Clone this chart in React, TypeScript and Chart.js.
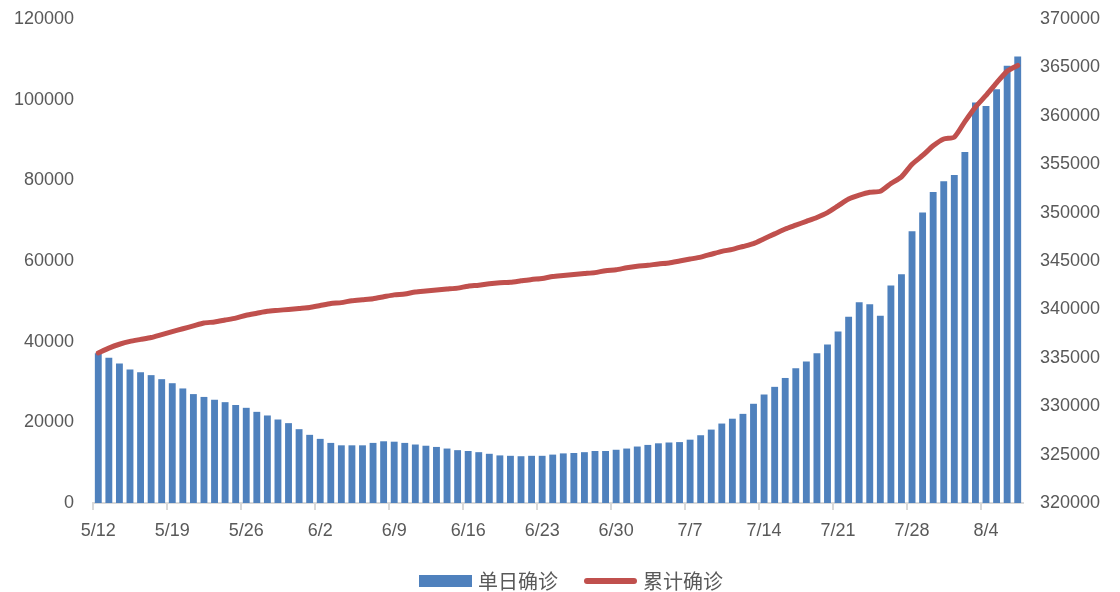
import React, { useEffect, useRef } from "react";
import { Chart, registerables } from "chart.js";

Chart.register(...registerables);

const dates = [
  "5/12", "5/13", "5/14", "5/15", "5/16", "5/17", "5/18", "5/19", "5/20", "5/21",
  "5/22", "5/23", "5/24", "5/25", "5/26", "5/27", "5/28", "5/29", "5/30", "5/31",
  "6/1", "6/2", "6/3", "6/4", "6/5", "6/6", "6/7", "6/8", "6/9", "6/10",
  "6/11", "6/12", "6/13", "6/14", "6/15", "6/16", "6/17", "6/18", "6/19", "6/20",
  "6/21", "6/22", "6/23", "6/24", "6/25", "6/26", "6/27", "6/28", "6/29", "6/30",
  "7/1", "7/2", "7/3", "7/4", "7/5", "7/6", "7/7", "7/8", "7/9", "7/10",
  "7/11", "7/12", "7/13", "7/14", "7/15", "7/16", "7/17", "7/18", "7/19", "7/20",
  "7/21", "7/22", "7/23", "7/24", "7/25", "7/26", "7/27", "7/28", "7/29", "7/30",
  "7/31", "8/1", "8/2", "8/3", "8/4", "8/5", "8/6", "8/7",
];

const dailyCases = [
  37100, 36000, 34600, 33100, 32400, 31700, 30700, 29700, 28400, 27000,
  26300, 25600, 25000, 24300, 23600, 22600, 21700, 20700, 19800, 18300,
  16900, 15900, 14900, 14300, 14300, 14300, 14900, 15300, 15200, 14900,
  14500, 14200, 13900, 13500, 13100, 12900, 12600, 12200, 11800, 11700,
  11600, 11700, 11700, 12000, 12300, 12400, 12600, 12900, 12900, 13200,
  13500, 14000, 14400, 14800, 15000, 15100, 15700, 16800, 18200, 19700,
  20900, 22100, 24600, 26900, 28800, 31000, 33400, 35100, 37100, 39300,
  42500, 46200, 49800, 49300, 46400, 53900, 56700, 67400, 72000, 77100,
  79800, 81300, 87000, 99300, 98400, 102600, 108400, 110700,
];

const cumulativeCases = [
  335500, 336000, 336400, 336700, 336900, 337100, 337400, 337700, 338000, 338300,
  338600, 338700, 338900, 339100, 339400, 339600, 339800, 339900, 340000, 340100,
  340200, 340400, 340600, 340700, 340900, 341000, 341100, 341300, 341500, 341600,
  341800, 341900, 342000, 342100, 342200, 342400, 342500, 342650, 342750, 342800,
  342950, 343100, 343200, 343400, 343500, 343600, 343700, 343800, 344000, 344100,
  344300, 344450, 344550, 344700, 344800, 345000, 345200, 345400, 345700, 346000,
  346200, 346500, 346800, 347300, 347800, 348300, 348700, 349100, 349500, 350000,
  350700, 351400, 351800, 352100, 352200, 353000, 353700, 355000, 355900, 356900,
  357600, 357800, 359400, 360900, 362100, 363400, 364600, 365200,
];

const seriesNames = ["单日确诊", "累计确诊"];
const leftAxisRange = [0, 120000, 20000];
const rightAxisRange = [320000, 370000, 5000];
const labelEvery = 7;

const BAR_COLOR = "#4f81bd";
const LINE_COLOR = "#c0504d";
const TEXT_COLOR = "#595959";

// Legend drawn below the x axis, reading labels and colours from the datasets
const bottomLegend = {
  id: "bottomLegend",
  afterDraw(chart: any) {
    const ctx = chart.ctx as CanvasRenderingContext2D;
    const ds = chart.data.datasets;
    const y = 581;
    const swatchW = 53;
    const gapText = 6;
    const gapItems = 26;
    ctx.save();
    ctx.font = '20px "Noto Sans CJK SC", sans-serif';
    ctx.textBaseline = "middle";
    ctx.textAlign = "left";
    const widths = ds.map((d: any) => swatchW + gapText + ctx.measureText(d.label).width);
    const total = widths.reduce((a: number, b: number) => a + b, 0) + gapItems * (ds.length - 1);
    let x = 571 - total / 2;
    ds.forEach((d: any, i: number) => {
      if (d.type === "line") {
        ctx.strokeStyle = d.borderColor;
        ctx.lineWidth = 6;
        ctx.lineCap = "round";
        ctx.beginPath();
        ctx.moveTo(x + 3, y);
        ctx.lineTo(x + swatchW - 3, y);
        ctx.stroke();
      } else {
        ctx.fillStyle = d.backgroundColor;
        ctx.fillRect(x, y - 6, swatchW, 12);
      }
      ctx.fillStyle = TEXT_COLOR;
      ctx.fillText(d.label, x + swatchW + gapText, y);
      x += widths[i] + gapItems;
    });
    ctx.restore();
  },
};

export default function App() {
  const canvasRef = useRef<HTMLCanvasElement | null>(null);

  useEffect(() => {
    document.body.style.margin = "0";
    const canvas = canvasRef.current;
    if (!canvas) return;
    const font = '"Liberation Sans", "Noto Sans CJK SC", sans-serif';

    const chart = new Chart(canvas, {
      type: "bar",
      data: {
        labels: dates,
        datasets: [
          {
            type: "bar",
            label: seriesNames[0],
            data: dailyCases,
            backgroundColor: BAR_COLOR,
            borderColor: BAR_COLOR,
            borderWidth: 0,
            barPercentage: 0.65,
            categoryPercentage: 1,
            yAxisID: "y",
            order: 1,
          } as any,
          {
            type: "line",
            label: seriesNames[1],
            data: cumulativeCases,
            borderColor: LINE_COLOR,
            backgroundColor: LINE_COLOR,
            borderWidth: 5,
            pointRadius: 0,
            pointHoverRadius: 0,
            tension: 0.2,
            borderCapStyle: "round",
            borderJoinStyle: "round",
            yAxisID: "y1",
            order: 0,
          } as any,
        ],
      },
      plugins: [bottomLegend],
      options: {
        responsive: false,
        animation: false,
        layout: { padding: { top: 19, left: 0, right: 0, bottom: 45 } },
        plugins: {
          legend: { display: false },
          tooltip: { enabled: false },
        },
        scales: {
          x: {
            type: "category",
            offset: true,
            grid: {
              offset: true,
              drawOnChartArea: false,
              drawTicks: true,
              tickLength: 7,
              lineWidth: 2,
              color: (ctx: any) =>
                typeof ctx.index === "number" && ctx.index % labelEvery === 0 ? "#d9d9d9" : "rgba(0,0,0,0)",
            },
            border: { display: true, color: "#d9d9d9", width: 2 },
            ticks: {
              autoSkip: false,
              maxRotation: 0,
              minRotation: 0,
              padding: 10,
              color: TEXT_COLOR,
              font: { family: font, size: 18 },
              callback: (_v: any, i: number) => (i % labelEvery === 0 ? dates[i] : ""),
            },
            afterFit: (s: any) => {
              s.height = 44;
            },
          },
          y: {
            position: "left",
            min: leftAxisRange[0],
            max: leftAxisRange[1],
            grid: { display: false, drawTicks: false },
            border: { display: false },
            ticks: {
              stepSize: leftAxisRange[2],
              padding: 19,
              color: TEXT_COLOR,
              font: { family: font, size: 18 },
              callback: (v: any) => String(v),
            },
            afterFit: (s: any) => {
              s.width = 93;
              s.paddingTop = 10;
              s.paddingBottom = 10;
            },
          },
          y1: {
            position: "right",
            min: rightAxisRange[0],
            max: rightAxisRange[1],
            grid: { display: false, drawTicks: false },
            border: { display: false },
            ticks: {
              stepSize: rightAxisRange[2],
              padding: 17,
              color: TEXT_COLOR,
              font: { family: font, size: 18 },
              callback: (v: any) => String(v),
            },
            afterFit: (s: any) => {
              s.width = 97;
              s.paddingTop = 10;
              s.paddingBottom = 10;
            },
          },
        },
      } as any,
    });

    return () => chart.destroy();
  }, []);

  return (
    <div style={{ width: 1120, height: 592, background: "#ffffff" }}>
      <canvas ref={canvasRef} width={1120} height={592} style={{ display: "block" }} />
    </div>
  );
}
